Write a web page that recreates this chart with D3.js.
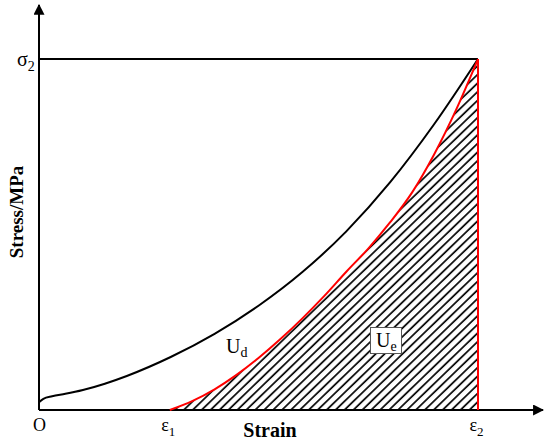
<!DOCTYPE html>
<html>
<head>
<meta charset="utf-8">
<script src="https://cdn.jsdelivr.net/npm/d3@7"></script>
<style>
  body { margin: 0; background: #fff; }
</style>
</head>
<body>
<div class="container"></div>
<script>
// strain and stress are normalised: 1 = epsilon2 / sigma2
var loadStrain   = [0, 0.01, 0.03, 0.06, 0.1, 0.15, 0.2, 0.3, 0.4, 0.5, 0.6, 0.7, 0.8, 0.9, 1];
var loadStress   = [0.022, 0.032, 0.039, 0.046, 0.057, 0.075, 0.097, 0.151, 0.217, 0.297, 0.393, 0.509, 0.649, 0.814, 1];
var unloadStrain = [0.298, 0.35, 0.4, 0.45, 0.5, 0.55, 0.6, 0.65, 0.7, 0.75, 0.8, 0.85, 0.9, 0.95, 1];
var unloadStress = [0, 0.026, 0.059, 0.100, 0.148, 0.202, 0.261, 0.325, 0.394, 0.460, 0.535, 0.620, 0.728, 0.855, 1];
var xTicks = [0, 0.298, 1];
var xTickLabels = [['O', ''], ['\u03b5', '1'], ['\u03b5', '2']];
var yTicks = [1];
var yTickLabels = [['\u03c3', '2']];
var axisMax = [1.148, 1.154];

var w = 550, h = 444;
var serif = "'Liberation Serif', 'Times New Roman', Times, serif";

var svg = d3.select('.container')
  .append('svg')
  .attr('width', w)
  .attr('height', h)
  .style('display', 'block');

var xScale = d3.scaleLinear().domain([0, 1]).range([39, 478]);
var yScale = d3.scaleLinear().domain([0, 1]).range([410, 59]);

var loadData = loadStrain.map(function(d, i) { return [d, loadStress[i]]; });
var unloadData = unloadStrain.map(function(d, i) { return [d, unloadStress[i]]; });

var line = d3.line()
  .x(function(d) { return xScale(d[0]); })
  .y(function(d) { return yScale(d[1]); })
  .curve(d3.curveMonotoneX);

/* ===== HATCH PATTERN ===== */

var defs = svg.append('defs');
defs.append('pattern')
  .attr('id', 'hatch')
  .attr('patternUnits', 'userSpaceOnUse')
  .attr('width', 6.2)
  .attr('height', 10)
  .attr('patternTransform', 'rotate(46)')
  .append('line')
  .attr('x1', 1).attr('y1', 0)
  .attr('x2', 1).attr('y2', 10)
  .attr('stroke', '#000')
  .attr('stroke-width', 1.7);

var area = d3.area()
  .x(function(d) { return xScale(d[0]); })
  .y0(yScale(0))
  .y1(function(d) { return yScale(d[1]); })
  .curve(d3.curveMonotoneX);

svg.append('path')
  .datum(unloadData)
  .attr('d', area)
  .attr('fill', 'url(#hatch)');

/* ===== AXES ===== */

defs.append('marker')
  .attr('id', 'arrow')
  .attr('viewBox', '0 0 10 10')
  .attr('refX', 9).attr('refY', 5)
  .attr('markerWidth', 11).attr('markerHeight', 11)
  .attr('markerUnits', 'userSpaceOnUse')
  .attr('orient', 'auto')
  .append('path')
  .attr('d', 'M0,0L10,5L0,10Z')
  .attr('fill', '#000');

var xAxis = d3.axisBottom(xScale)
  .tickValues(xTicks)
  .tickSize(0)
  .tickFormat('');

var gx = svg.append('g')
  .attr('transform', 'translate(0,' + yScale(0) + ')')
  .call(xAxis)
  .attr('font-family', serif);
gx.select('.domain').remove();
gx.selectAll('.tick text').remove();
gx.selectAll('.tick').append('text')
  .attr('y', 21)
  .attr('x', function(d, i) { return i === 0 ? 0 : -2; })
  .attr('text-anchor', 'middle')
  .attr('fill', '#000')
  .attr('font-size', 18)
  .each(function(d, i) {
    var t = d3.select(this);
    t.append('tspan').text(xTickLabels[i][0]);
    t.append('tspan').attr('dy', 5).attr('font-size', 13).text(xTickLabels[i][1]);
  });

var yAxis = d3.axisLeft(yScale)
  .tickValues(yTicks)
  .tickSize(0)
  .tickFormat('');

var gy = svg.append('g')
  .attr('transform', 'translate(' + xScale(0) + ',0)')
  .call(yAxis)
  .attr('font-family', serif);
gy.select('.domain').remove();
gy.selectAll('.tick text').remove();
gy.selectAll('.tick').append('text')
  .attr('x', -22)
  .attr('y', 6)
  .attr('text-anchor', 'start')
  .attr('fill', '#000')
  .attr('font-size', 20)
  .each(function(d, i) {
    var t = d3.select(this);
    t.append('tspan').text(yTickLabels[i][0]);
    t.append('tspan').attr('dy', 5).attr('font-size', 14).text(yTickLabels[i][1]);
  });

svg.append('line')
  .attr('x1', xScale(0)).attr('y1', yScale(0))
  .attr('x2', xScale(axisMax[0])).attr('y2', yScale(0))
  .attr('stroke', '#000').attr('stroke-width', 2)
  .attr('marker-end', 'url(#arrow)');

svg.append('line')
  .attr('x1', xScale(0)).attr('y1', yScale(0))
  .attr('x2', xScale(0)).attr('y2', yScale(axisMax[1]))
  .attr('stroke', '#000').attr('stroke-width', 2)
  .attr('marker-end', 'url(#arrow)');

// sigma2 level
svg.append('line')
  .attr('x1', xScale(0)).attr('y1', yScale(1))
  .attr('x2', xScale(1)).attr('y2', yScale(1))
  .attr('stroke', '#000').attr('stroke-width', 2);

/* ===== CURVES ===== */

svg.append('path')
  .datum(loadData)
  .attr('d', line)
  .attr('fill', 'none')
  .attr('stroke', '#000')
  .attr('stroke-width', 2);

svg.append('path')
  .datum(unloadData)
  .attr('d', line)
  .attr('fill', 'none')
  .attr('stroke', '#ff0000')
  .attr('stroke-width', 2);

svg.append('line')
  .attr('x1', xScale(1)).attr('y1', yScale(0))
  .attr('x2', xScale(1)).attr('y2', yScale(1))
  .attr('stroke', '#ff0000').attr('stroke-width', 2);

/* ===== LABELS ===== */

var labels = svg.append('g').attr('font-family', serif);

var ud = labels.append('text')
  .attr('x', 226).attr('y', 353)
  .attr('font-size', 20);
ud.append('tspan').text('U');
ud.append('tspan').attr('dy', 4).attr('font-size', 14).text('d');

labels.append('rect')
  .attr('x', 370.5).attr('y', 327.5)
  .attr('width', 31).attr('height', 26)
  .attr('fill', '#fff')
  .attr('stroke', '#555')
  .attr('stroke-width', 1);

var ue = labels.append('text')
  .attr('x', 376).attr('y', 347)
  .attr('font-size', 20);
ue.append('tspan').text('U');
ue.append('tspan').attr('dy', 4).attr('font-size', 14).text('e');

labels.append('text')
  .attr('x', 270).attr('y', 437)
  .attr('text-anchor', 'middle')
  .attr('font-size', 20)
  .attr('font-weight', 'bold')
  .text('Strain');

labels.append('text')
  .attr('transform', 'translate(23,212) rotate(-90)')
  .attr('text-anchor', 'middle')
  .attr('font-size', 19)
  .attr('font-weight', 'bold')
  .text('Stress/MPa');
</script>
</body>
</html>
